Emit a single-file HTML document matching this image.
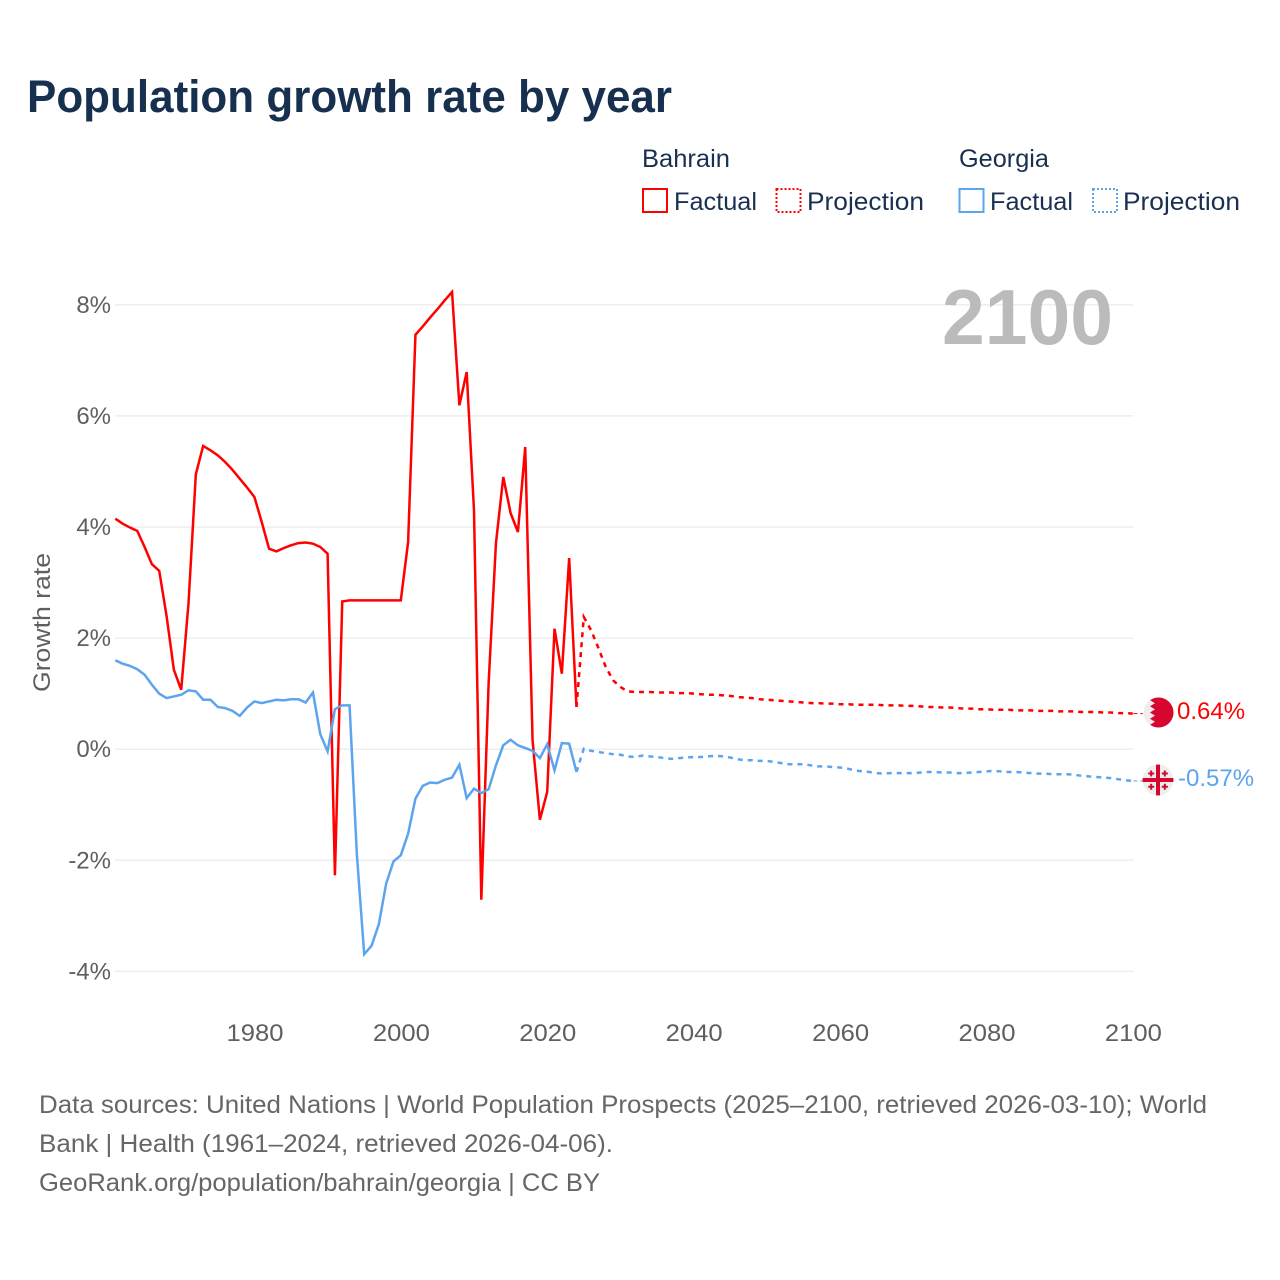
<!DOCTYPE html>
<html lang="en">
<head>
<meta charset="utf-8">
<title>Population growth rate by year</title>
<style>
html,body{margin:0;padding:0;background:#fff;width:1280px;height:1280px;overflow:hidden}
svg{display:block}
text{font-family:"Liberation Sans",Arial,sans-serif}
</style>
</head>
<body>
<svg id="chart" xmlns="http://www.w3.org/2000/svg" width="1280" height="1280" viewBox="0 0 1280 1280">
  <rect width="1280" height="1280" fill="#fff"/>
  <text x="27" y="112" font-size="45" font-weight="700" fill="#18304f" textLength="645" lengthAdjust="spacingAndGlyphs">Population growth rate by year</text>

  <g font-size="25" fill="#1a3050">
    <text x="642" y="167" textLength="88" lengthAdjust="spacingAndGlyphs">Bahrain</text>
    <text x="959" y="167" textLength="90" lengthAdjust="spacingAndGlyphs">Georgia</text>
    <rect x="643" y="189" width="24" height="23" fill="none" stroke="#ff0000" stroke-width="2"/>
    <text x="674" y="210" textLength="83" lengthAdjust="spacingAndGlyphs">Factual</text>
    <rect x="776.5" y="189" width="24" height="23" fill="none" stroke="#ff0000" stroke-width="2" stroke-dasharray="2 2"/>
    <text x="807" y="210" textLength="117" lengthAdjust="spacingAndGlyphs">Projection</text>
    <rect x="959.500" y="189" width="24" height="23" fill="none" stroke="#5ca4ee" stroke-width="2"/>
    <text x="990" y="210" textLength="83" lengthAdjust="spacingAndGlyphs">Factual</text>
    <rect x="1093" y="189" width="24" height="23" fill="none" stroke="#5ca4ee" stroke-width="2" stroke-dasharray="2 2"/>
    <text x="1123" y="210" textLength="117" lengthAdjust="spacingAndGlyphs">Projection</text>
  </g>

  <g id="grid"></g>
  <g id="yticks"></g>
  <g id="xticks"></g>

  <text transform="translate(50,622.5) rotate(-90)" text-anchor="middle" font-size="24" fill="#5f5f5f" textLength="139" lengthAdjust="spacingAndGlyphs">Growth rate</text>
  <text x="1113" y="344" text-anchor="end" font-size="78" font-weight="700" fill="#bbbbbb" textLength="171" lengthAdjust="spacingAndGlyphs">2100</text>

  <g id="series"></g>

  <g>
    <clipPath id="clip-bh"><circle cx="1158.500" cy="712.5" r="15"/></clipPath>
    <circle cx="1158.500" cy="712.5" r="15" fill="#eeeeee"/>
    <polygon clip-path="url(#clip-bh)" fill="#d6062e" points="1176,696 1150,696 1155,697.5 1150,700.1 1155,703.2 1150,706.300 1155,709.4 1150,712.5 1155,715.6 1150,718.700 1155,721.8 1150,724.900 1155,727.5 1150,729 1176,729"/>
  </g>
  <g>
    <clipPath id="clip-ge"><circle cx="1158" cy="780" r="15.5"/></clipPath>
    <circle cx="1158" cy="780" r="15.5" fill="#eeeeee"/>
    <g clip-path="url(#clip-ge)" fill="#d6062e">
      <rect x="1156" y="764" width="4" height="32"/>
      <rect x="1142" y="778" width="32" height="4"/>
      <path d="M1150.200 770.500h2v2h2v2h-2v2h-2v-2h-2v-2h2zM1163.800 770.500h2v2h2v2h-2v2h-2v-2h-2v-2h2zM1150.200 783.800h2v2h2v2h-2v2h-2v-2h-2v-2h2zM1163.800 783.800h2v2h2v2h-2v2h-2v-2h-2v-2h2z"/>
    </g>
  </g>
  <text x="1177" y="719" font-size="24" fill="#ff0000">0.64%</text>
  <text x="1178" y="786" font-size="24" fill="#5ca4ee">-0.57%</text>

  <g font-size="25" fill="#666666">
    <text x="39" y="1113" textLength="1168" lengthAdjust="spacingAndGlyphs">Data sources: United Nations | World Population Prospects (2025–2100, retrieved 2026-03-10); World</text>
    <text x="39" y="1152" textLength="574" lengthAdjust="spacingAndGlyphs">Bank | Health (1961–2024, retrieved 2026-04-06).</text>
    <text x="39" y="1191" textLength="561" lengthAdjust="spacingAndGlyphs">GeoRank.org/population/bahrain/georgia | CC BY</text>
  </g>
</svg>
<script>
var firstFactualYear = 1961;
var firstProjectionYear = 2024;
var xTickYears = [1980, 2000, 2020, 2040, 2060, 2080, 2100];
var yTickValues = [8, 6, 4, 2, 0, -2, -4];
var yTickLabels = ["8%", "6%", "4%", "2%", "0%", "-2%", "-4%"];

var bahrainFactual = [4.15,4.06,3.99,3.93,3.64,3.33,3.21,2.4,1.43,1.07,2.63,4.95,5.46,5.38,5.29,5.17,5.03,4.87,4.71,4.54,4.09,3.61,3.56,3.62,3.67,3.71,3.72,3.70,3.64,3.52,-2.27,2.66,2.68,2.68,2.68,2.68,2.68,2.68,2.68,2.68,3.73,7.46,7.61,7.77,7.92,8.08,8.23,6.19,6.79,4.30,-2.71,1.2,3.71,4.90,4.25,3.91,5.44,0.16,-1.27,-0.77,2.17,1.36,3.44,0.76];

var georgiaFactual = [1.60,1.54,1.50,1.44,1.34,1.16,1.0,0.92,0.95,0.98,1.06,1.04,0.89,0.89,0.76,0.74,0.69,0.60,0.75,0.86,0.83,0.86,0.89,0.88,0.90,0.90,0.84,1.02,0.27,-0.04,0.72,0.79,0.79,-1.9,-3.69,-3.54,-3.15,-2.42,-2.02,-1.91,-1.52,-0.89,-0.66,-0.60,-0.61,-0.55,-0.51,-0.28,-0.88,-0.71,-0.79,-0.72,-0.29,0.07,0.17,0.07,0.02,-0.03,-0.16,0.09,-0.38,0.11,0.10,-0.41];

var bahrainProjection = [0.76,2.38,2.14,1.82,1.48,1.24,1.12,1.04,1.03,1.03,1.03,1.02,1.02,1.02,1.01,1.01,1.00,0.99,0.98,0.98,0.97,0.96,0.94,0.93,0.92,0.90,0.89,0.88,0.87,0.86,0.85,0.84,0.83,0.83,0.82,0.82,0.81,0.81,0.80,0.80,0.80,0.80,0.79,0.79,0.79,0.78,0.78,0.77,0.76,0.76,0.75,0.75,0.74,0.73,0.73,0.72,0.72,0.71,0.71,0.71,0.70,0.70,0.70,0.69,0.69,0.69,0.68,0.68,0.68,0.67,0.67,0.67,0.66,0.66,0.65,0.65,0.64];

var georgiaProjection = [-0.41,0.01,-0.03,-0.05,-0.07,-0.09,-0.10,-0.13,-0.14,-0.115,-0.13,-0.14,-0.16,-0.175,-0.16,-0.15,-0.14,-0.14,-0.13,-0.12,-0.13,-0.15,-0.18,-0.20,-0.20,-0.21,-0.21,-0.23,-0.25,-0.27,-0.27,-0.27,-0.29,-0.31,-0.31,-0.32,-0.33,-0.35,-0.38,-0.40,-0.41,-0.43,-0.44,-0.43,-0.43,-0.43,-0.43,-0.42,-0.41,-0.41,-0.42,-0.42,-0.43,-0.43,-0.42,-0.41,-0.40,-0.39,-0.40,-0.41,-0.41,-0.42,-0.43,-0.44,-0.44,-0.45,-0.45,-0.45,-0.46,-0.48,-0.49,-0.50,-0.51,-0.52,-0.54,-0.56,-0.57];

var NS = "http://www.w3.org/2000/svg";
var RED = "#ff0000";
var BLUE = "#5ca4ee";

function xScale(year) { return 401.4 + (year - 2000) * 7.32; }
function xData(year) { return xScale(year) - 0.6; }
function yScale(value) { return 749.2 - value * 55.55; }

function linePath(values, startYear) {
  return values.map(function (v, i) {
    return (i ? "L" : "M") + xData(startYear + i).toFixed(2) + " " + yScale(v).toFixed(2);
  }).join("");
}

var grid = document.getElementById("grid");
var yticks = document.getElementById("yticks");
yTickValues.forEach(function (v, i) {
  var ln = document.createElementNS(NS, "line");
  
  
  ln.setAttribute("x1", xScale(firstFactualYear) - 1);
  ln.setAttribute("x2", xScale(2100));
  ln.setAttribute("y1", yScale(v));
  ln.setAttribute("y2", yScale(v));
  ln.setAttribute("stroke", "#eeeeee");
  ln.setAttribute("stroke-width", "1.5");
  grid.appendChild(ln);

  var t = document.createElementNS(NS, "text");
  
  
  t.setAttribute("x", 111);
  t.setAttribute("y", yScale(v) + 8);
  t.setAttribute("text-anchor", "end");
  t.setAttribute("font-size", "24");
  t.setAttribute("fill", "#5f5f5f");
  t.textContent = yTickLabels[i];
  yticks.appendChild(t);
});

var xticks = document.getElementById("xticks");
xTickYears.forEach(function (year) {
  var t = document.createElementNS(NS, "text");
  
  
  t.setAttribute("x", xScale(year));
  t.setAttribute("y", 1041);
  t.setAttribute("text-anchor", "middle");
  t.setAttribute("font-size", "24");
  t.setAttribute("fill", "#5f5f5f");
  t.setAttribute("textLength", "57");
  t.setAttribute("lengthAdjust", "spacingAndGlyphs");
  t.textContent = String(year);
  xticks.appendChild(t);
});

var series = document.getElementById("series");

var pathBahrainFactual = document.createElementNS(NS, "path");


pathBahrainFactual.setAttribute("d", linePath(bahrainFactual, firstFactualYear));
pathBahrainFactual.setAttribute("fill", "none");
pathBahrainFactual.setAttribute("stroke", RED);
pathBahrainFactual.setAttribute("stroke-width", "2.5");
series.appendChild(pathBahrainFactual);

var pathGeorgiaFactual = document.createElementNS(NS, "path");


pathGeorgiaFactual.setAttribute("d", linePath(georgiaFactual, firstFactualYear));
pathGeorgiaFactual.setAttribute("fill", "none");
pathGeorgiaFactual.setAttribute("stroke", BLUE);
pathGeorgiaFactual.setAttribute("stroke-width", "2.5");
series.appendChild(pathGeorgiaFactual);

var pathBahrainProjection = document.createElementNS(NS, "path");


pathBahrainProjection.setAttribute("d", linePath(bahrainProjection, firstProjectionYear));
pathBahrainProjection.setAttribute("fill", "none");
pathBahrainProjection.setAttribute("stroke", RED);
pathBahrainProjection.setAttribute("stroke-width", "2.5");
pathBahrainProjection.setAttribute("stroke-dasharray", "5 5");
series.appendChild(pathBahrainProjection);

var pathGeorgiaProjection = document.createElementNS(NS, "path");


pathGeorgiaProjection.setAttribute("d", linePath(georgiaProjection, firstProjectionYear));
pathGeorgiaProjection.setAttribute("fill", "none");
pathGeorgiaProjection.setAttribute("stroke", BLUE);
pathGeorgiaProjection.setAttribute("stroke-width", "2.5");
pathGeorgiaProjection.setAttribute("stroke-dasharray", "5 5");
series.appendChild(pathGeorgiaProjection);

var leaderBahrain = document.createElementNS(NS, "line");


leaderBahrain.setAttribute("x1", xScale(2100));
leaderBahrain.setAttribute("x2", 1143);
leaderBahrain.setAttribute("y1", yScale(bahrainProjection[bahrainProjection.length - 1]));
leaderBahrain.setAttribute("y2", yScale(bahrainProjection[bahrainProjection.length - 1]));
leaderBahrain.setAttribute("stroke", RED);
leaderBahrain.setAttribute("stroke-width", "1");
leaderBahrain.setAttribute("stroke-dasharray", "4 3");
series.appendChild(leaderBahrain);

var leaderGeorgia = document.createElementNS(NS, "line");


leaderGeorgia.setAttribute("x1", xScale(2100));
leaderGeorgia.setAttribute("x2", 1143);
leaderGeorgia.setAttribute("y1", yScale(georgiaProjection[georgiaProjection.length - 1]));
leaderGeorgia.setAttribute("y2", yScale(georgiaProjection[georgiaProjection.length - 1]));
leaderGeorgia.setAttribute("stroke", BLUE);
leaderGeorgia.setAttribute("stroke-width", "1");
leaderGeorgia.setAttribute("stroke-dasharray", "4 3");
series.appendChild(leaderGeorgia);
</script>
</body>
</html>
